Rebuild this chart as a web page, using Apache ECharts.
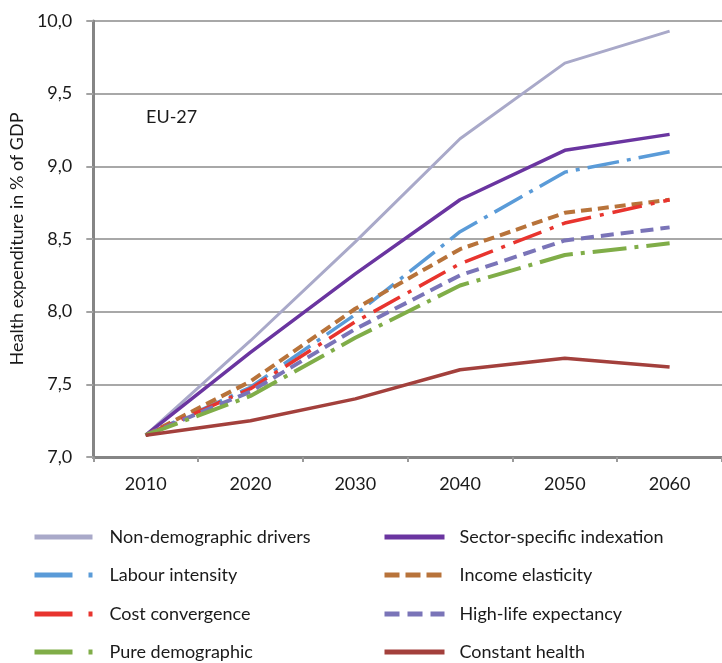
<!DOCTYPE html>
<html><head><meta charset="utf-8">
<script src="https://cdn.jsdelivr.net/npm/echarts@6/dist/echarts.min.js"></script>
<style>html,body{margin:0;padding:0;background:#fff}#c{width:722px;height:663px}</style>
</head><body><div id="c"></div>
<script>
const years = ['2010','2020','2030','2040','2050','2060'];
const nonDemographic = [7.15, 7.80, 8.48, 9.19, 9.71, 9.93];
const sectorSpecific = [7.15, 7.72, 8.26, 8.77, 9.11, 9.22];
const labourIntensity = [7.15, 7.48, 7.98, 8.55, 8.96, 9.10];
const incomeElasticity = [7.15, 7.52, 8.02, 8.43, 8.68, 8.77];
const costConvergence = [7.15, 7.47, 7.93, 8.33, 8.61, 8.77];
const highLife = [7.15, 7.45, 7.88, 8.25, 8.49, 8.58];
const pureDemographic = [7.15, 7.42, 7.82, 8.18, 8.39, 8.47];
const constantHealth = [7.15, 7.25, 7.40, 7.60, 7.68, 7.62];
const yTicks = [7.0, 7.5, 8.0, 8.5, 9.0, 9.5, 10.0];
const leftLegendNames = ['Non-demographic drivers','Labour intensity','Cost convergence','Pure demographic'];
const rightLegendNames = ['Sector-specific indexation','Income elasticity','High-life expectancy','Constant health'];

const F = 'Lato, "Open Sans", sans-serif';
const legendDash = {
  'Labour intensity':[38,16,4,10], 'Cost convergence':[38,16,4,10], 'Pure demographic':[38,16,4,10],
  'Income elasticity':[15,6], 'High-life expectancy':[15,8]
};
function s(name, data, color, type, width) {
  return {name, type:'line', data, symbol:'none', smooth:false,
    lineStyle:{color, width: width||3, type: type||'solid'}, itemStyle:{color}};
}
const legendRowsY = [537, 575, 614, 652];
const legends = [];
function addLegends(names, left, iconW, pad) {
  names.forEach((n, i) => {
    legends.push({left, top: legendRowsY[i] - 10, padding:0, itemWidth:iconW, itemHeight:20,
      selectedMode:false, itemStyle:{opacity:0},
      lineStyle:{width:5, type: legendDash[n] || 'solid'},
      textStyle:{fontSize:18, fontFamily:F, color:'#1a1a1a', lineHeight:20, padding:[0,0,0,pad]},
      data:[n]});
  });
}
addLegends(leftLegendNames, 32, 58, 12);
addLegends(rightLegendNames, 382, 60, 10);

const chart = echarts.init(document.getElementById('c'));
chart.setOption({
  animation:false,
  grid:{left:82, top:21, width:654, height:436},
  xAxis:{type:'category', data:years, boundaryGap:true,
    axisLine:{lineStyle:{color:'#858585', width:3}},
    axisTick:{show:true, length:5, lineStyle:{color:'#9a9a9a', width:2}},
    axisLabel:{color:'#1a1a1a', fontSize:18, fontFamily:F, margin:18}},
  yAxis:{type:'value', min:yTicks[0], max:yTicks[yTicks.length-1], interval:0.5,
    name:'Health expenditure in % of GDP', nameLocation:'middle', nameGap:58,
    nameTextStyle:{color:'#1a1a1a', fontSize:18, fontFamily:F},
    axisLine:{show:true, lineStyle:{color:'#858585', width:3}},
    axisTick:{show:true, length:7, lineStyle:{color:'#a3a3a3', width:2}},
    axisLabel:{color:'#1a1a1a', fontSize:18, fontFamily:F, margin:21,
      formatter:v=>v.toFixed(1).replace('.',',')},
    splitLine:{lineStyle:{color:'#a8a8a8', width:2}}},
  legend:legends,
  graphic:[{type:'text', left:146, top:108, style:{text:'EU-27', fontSize:18, fontFamily:F, fill:'#1a1a1a'}}],
  series:[
    s('Non-demographic drivers', nonDemographic, '#a9a9c9', 'solid', 3),
    s('Sector-specific indexation', sectorSpecific, '#6a35a0', 'solid', 3.5),
    s('Labour intensity', labourIntensity, '#5a9bd8', [32,8,4,8], 3.5),
    s('Income elasticity', incomeElasticity, '#b8733a', [11,6], 4),
    s('Cost convergence', costConvergence, '#e8342e', [30,9,4,9], 3.5),
    s('High-life expectancy', highLife, '#7a74b8', [13,7], 4),
    s('Pure demographic', pureDemographic, '#80ad48', [34,8,4,8], 4),
    s('Constant health', constantHealth, '#a3403c', 'solid', 3.5)
  ]
});
</script></body></html>
